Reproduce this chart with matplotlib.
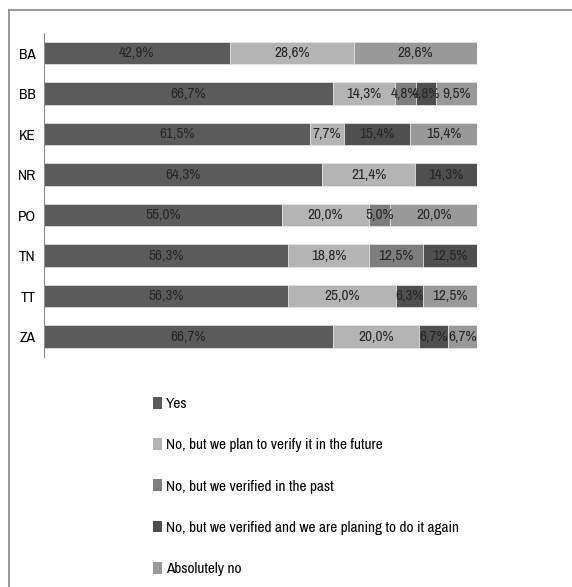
import numpy as np
import matplotlib.pyplot as plt
from matplotlib.lines import Line2D
from matplotlib.patches import Patch

plt.rcParams['font.family'] = ['Archivo Narrow', 'DejaVu Sans']

regions = ['BA', 'BB', 'KE', 'NR', 'PO', 'TN', 'TT', 'ZA']
series = ['Yes',
          'No, but we plan to verify it in the future',
          'No, but we verified in the past',
          'No, but we verified and we are planing to do it again',
          'Absolutely no']
yes = [42.9, 66.7, 61.5, 64.3, 55.0, 56.3, 56.3, 66.7]
plan_future = [28.6, 14.3, 7.7, 21.4, 20.0, 18.8, 25.0, 20.0]
verified_past = [0, 4.8, 0, 0, 5.0, 12.5, 0, 0]
verified_again = [0, 4.8, 15.4, 14.3, 0, 12.5, 6.3, 6.7]
absolutely_no = [28.6, 9.5, 15.4, 0, 20.0, 0, 12.5, 6.7]
colors = ['#5b5b5b', '#b4b4b4', '#7e7e7e', '#4f4f4f', '#999999']

data = [yes, plan_future, verified_past, verified_again, absolutely_no]

fig = plt.figure(figsize=(5.72, 5.87), dpi=100)
ax = fig.add_axes([0.077, 0.392, 0.757, 0.552])

y = np.arange(len(regions))
left = np.zeros(len(regions))
for vals, col, name in zip(data, colors, series):
    vals = np.array(vals)
    ax.barh(y, vals, left=left, height=0.56, color=col, edgecolor='#e6e6e6',
            linewidth=0.5, label=name)
    for yi, l, v in zip(y, left, vals):
        if v > 0:
            ax.text(l + v / 2, yi, ('%.1f%%' % v).replace('.', ','),
                    ha='center', va='center', fontsize=11, color='#262626')
    left += vals

ax.set_xlim(0, 100)
ax.set_ylim(len(regions) - 0.5, -0.5)
ax.set_yticks(y)
ax.set_yticklabels(regions, fontsize=11)
ax.set_xticks([])
ax.tick_params(axis='y', length=0, pad=6)
for s in ['top', 'right', 'bottom']:
    ax.spines[s].set_visible(False)
ax.spines['left'].set_color('#8c8c8c')
ax.spines['left'].set_linewidth(0.8)

handles = [Patch(facecolor=c, edgecolor='none') for c in colors]
fig.legend(handles, series, loc='upper left', bbox_to_anchor=(0.244, 0.347),
           frameon=False, fontsize=11, handlelength=0.55, handleheight=0.8,
           handletextpad=0.3, labelspacing=1.77)

# outer frame lines (left and top only)
fig.add_artist(Line2D([9 / 572, 9 / 572], [0, 1 - 10 / 587], color='#888888', lw=1.2))
fig.add_artist(Line2D([9 / 572, 1], [1 - 10 / 587, 1 - 10 / 587], color='#888888', lw=1.2))

fig.savefig('out.png', dpi=100)
